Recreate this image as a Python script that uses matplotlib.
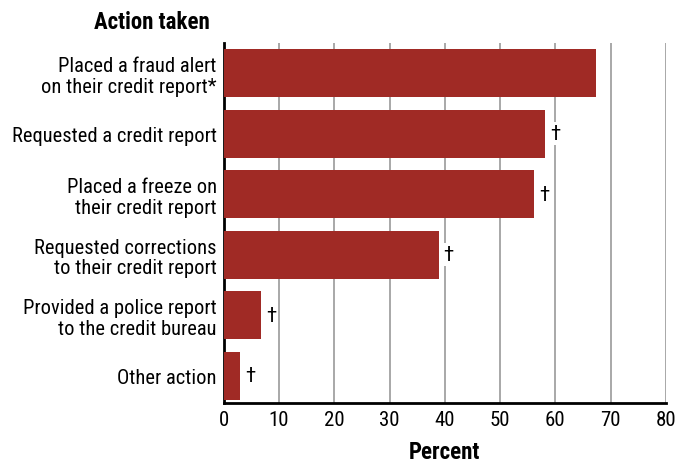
import matplotlib
matplotlib.use("Agg")
import matplotlib.pyplot as plt
from matplotlib import font_manager

categories = [
    "Placed a fraud alert\non their credit report*",
    "Requested a credit report",
    "Placed a freeze on\ntheir credit report",
    "Requested corrections\nto their credit report",
    "Provided a police report\nto the credit bureau",
    "Other action",
]
values = [67.4, 58.2, 56.2, 38.9, 6.7, 2.9]
markers = ["", "†", "†", "†", "†", "†"]
xticks = [0, 10, 20, 30, 40, 50, 60, 70, 80]

names = {f.name for f in font_manager.fontManager.ttflist}
fam = [n for n in ["Roboto Condensed", "Liberation Sans Narrow", "Open Sans Condensed"] if n in names]
fam = fam + ["DejaVu Sans"]
plt.rcParams['font.family'] = fam

fig = plt.figure(figsize=(6.78, 4.64), dpi=100)
ax = fig.add_axes([0.33, 0.1293, 0.652, 0.776])

y = list(range(len(categories)))
ax.barh(y, values, height=0.79, color="#A02A25", zorder=3)
ax.set_ylim(5.45, -0.5)
ax.set_xlim(0, 80)
ax.set_xticks(xticks)
ax.set_xticklabels([str(t) for t in xticks], fontsize=15)
ax.set_yticks(y)
ax.set_yticklabels(categories, fontsize=14.8, linespacing=1.1)
ax.tick_params(axis='both', length=0, pad=5)
ax.grid(axis='x', color="#999999", linewidth=1.2, zorder=0)
for s in ["top", "right"]:
    ax.spines[s].set_visible(False)
ax.spines["left"].set_linewidth(2)
ax.spines["bottom"].set_linewidth(2)

for yi, v, m in zip(y, values, markers):
    if m:
        ax.text(v + 0.9, yi, m, fontsize=15, ha="left", va="center", zorder=4,
                bbox=dict(facecolor="white", edgecolor="none", pad=1.5))

ax.set_xlabel("Percent", fontsize=16.5, fontweight="bold", labelpad=8)
fig.text(0.31, 0.952, "Action taken", fontsize=16.5, fontweight="bold", ha="right", va="center")

fig.savefig("out.png", dpi=100)
